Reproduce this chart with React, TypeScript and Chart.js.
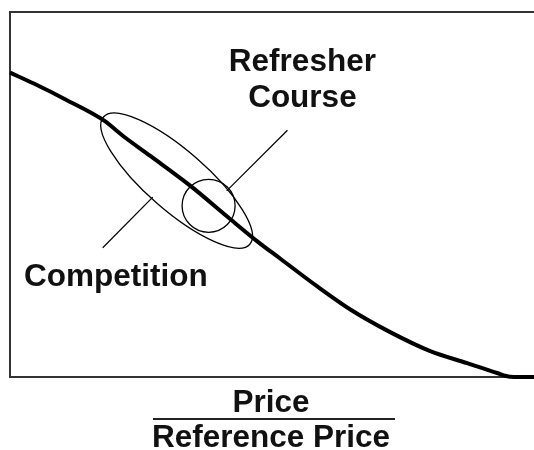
import React, { useEffect, useRef } from "react";
import { Chart, registerables } from "chart.js";

Chart.register(...registerables);

// Demand curve: share of buyers vs. Price / Reference Price
const priceRatio = [0, 0.091, 0.221, 0.358, 0.434, 0.537, 0.69, 0.83, 0.945, 1.032, 1.173, 1.299, 1.451, 1.604, 1.745, 1.859, 1.909, 2.0];
const demandShare = [0.834, 0.804, 0.757, 0.703, 0.659, 0.605, 0.523, 0.439, 0.371, 0.324, 0.248, 0.185, 0.123, 0.071, 0.038, 0.011, 0.001, 0];

// Regions on the curve (centres in data units)
const regionNames = ["Competition", "Refresher Course"];
const regionCenterX = [0.636, 0.758];
const regionCenterY = [0.538, 0.469];

// Label texts
const labelLines = [["Refresher", "Course"], ["Competition"]];
const labelX = [1.116, 0.404];
const labelY = [0.839, 0.248];
const labelLineStep = [0.098, 0];

// Leader lines (from label to region), data units
const leaderFromX = [1.059, 0.354];
const leaderFromY = [0.676, 0.354];
const leaderToX = [0.827, 0.545];
const leaderToY = [0.51, 0.493];

const axisNumerator = "Price";
const axisDenominator = "Reference Price";

const FONT = "bold 31.5px 'Liberation Sans', Arial, sans-serif";
const INK = "#111";

// ellipse shapes (pixels): [rx, ry, rotationDeg]
const regionShapes: Record<string, [number, number, number]> = {
  "Competition": [97, 30, 41],
  "Refresher Course": [26.5, 26.5, 0],
};

const annotationPlugin = {
  id: "conceptAnnotations",
  afterDatasetsDraw(chart: any) {
    const { ctx, scales, chartArea } = chart;
    const xs = scales.x;
    const ys = scales.y;
    ctx.save();
    // ellipses
    ctx.strokeStyle = "#000";
    ctx.lineWidth = 1.3;
    regionNames.forEach((name, i) => {
      const [rx, ry, rot] = regionShapes[name];
      ctx.beginPath();
      ctx.ellipse(
        xs.getPixelForValue(regionCenterX[i]),
        ys.getPixelForValue(regionCenterY[i]),
        rx,
        ry,
        (rot * Math.PI) / 180,
        0,
        Math.PI * 2
      );
      ctx.stroke();
    });
    // leader lines
    ctx.lineWidth = 1.2;
    leaderFromX.forEach((_, i) => {
      ctx.beginPath();
      ctx.moveTo(xs.getPixelForValue(leaderFromX[i]), ys.getPixelForValue(leaderFromY[i]));
      ctx.lineTo(xs.getPixelForValue(leaderToX[i]), ys.getPixelForValue(leaderToY[i]));
      ctx.stroke();
    });
    // labels
    ctx.fillStyle = INK;
    ctx.font = FONT;
    ctx.textAlign = "center";
    ctx.textBaseline = "alphabetic";
    labelLines.forEach((lines, i) => {
      lines.forEach((t, j) => {
        ctx.fillText(
          t,
          xs.getPixelForValue(labelX[i]),
          ys.getPixelForValue(labelY[i] - j * labelLineStep[i])
        );
      });
    });
    // axis title as fraction
    const cx = 271;
    const b = chartArea.bottom;
    ctx.fillText(axisNumerator, cx, b + 35);
    ctx.fillText(axisDenominator, cx, b + 70);
    ctx.strokeStyle = "#222";
    ctx.lineWidth = 2;
    ctx.beginPath();
    ctx.moveTo(153, b + 42);
    ctx.lineTo(395, b + 42);
    ctx.stroke();
    ctx.restore();
  },
};

const hiddenAxis = {
  type: "linear" as const,
  display: true,
  ticks: { display: false },
  grid: { display: false, drawTicks: false },
  border: { display: true, color: "#333", width: 2 },
};

export default function App() {
  const ref = useRef<HTMLCanvasElement | null>(null);
  useEffect(() => {
    if (!ref.current) return;
    const chart = new Chart(ref.current, {
      type: "line",
      data: {
        datasets: [
          {
            label: "Demand",
            data: priceRatio.map((x, i) => ({ x, y: demandShare[i] })),
            borderColor: "#000",
            borderWidth: 4,
            pointRadius: 0,
            cubicInterpolationMode: "monotone",
            fill: false,
            clip: false as any,
          },
        ],
      },
      options: {
        responsive: false,
        animation: false,
        layout: { padding: { left: 10, top: 12, right: 0, bottom: 73 } },
        plugins: { legend: { display: false }, tooltip: { enabled: false }, title: { display: false } },
        scales: {
          x: { ...hiddenAxis, position: "bottom", min: 0, max: 2 },
          xTop: { ...hiddenAxis, position: "top", min: 0, max: 2 },
          y: { ...hiddenAxis, position: "left", min: 0, max: 1 },
        },
      },
      plugins: [annotationPlugin],
    });
    return () => chart.destroy();
  }, []);
  return (
    <div style={{ position: "absolute", left: 0, top: 0, width: 534, height: 450, background: "#fff" }}>
      <canvas ref={ref} width={534} height={450} style={{ width: 534, height: 450, display: "block" }} />
    </div>
  );
}
